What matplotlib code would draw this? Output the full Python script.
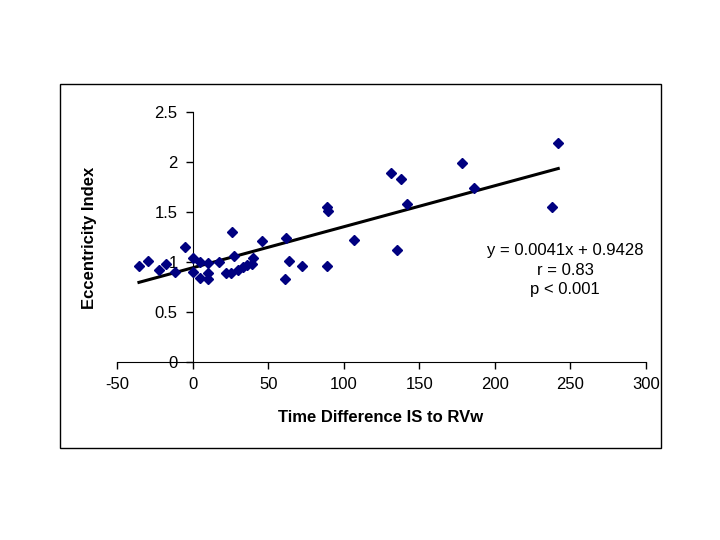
import numpy as np
import matplotlib.pyplot as plt
from matplotlib.patches import Rectangle

plt.rcParams['font.family'] = ['Liberation Sans', 'DejaVu Sans']
plt.rcParams['axes.unicode_minus'] = False

# time difference IS to RVw vs eccentricity index
time_diff = [-35.7, -29.8, -22.5, -17.9, -12.0, -5.0, 0.0, 0.0, 5.0, 5.0,
             10.0, 10.0, 10.0, 17.0, 22.0, 25.0, 26.0, 27.0, 30.0, 33.0,
             36.0, 39.0, 40.0, 46.0, 61.5, 60.8, 63.5, 72.0, 89.0, 88.6,
             89.3, 107.0, 131.0, 135.0, 137.6, 141.5, 178.0, 186.5, 238.0, 242.0]
ecc_index = [0.96, 1.01, 0.92, 0.98, 0.90, 1.15, 1.04, 0.90, 1.00, 0.84,
             0.99, 0.83, 0.89, 1.00, 0.89, 0.89, 1.30, 1.06, 0.92, 0.95,
             0.97, 0.98, 1.04, 1.21, 1.24, 0.83, 1.01, 0.96, 0.96, 1.55,
             1.51, 1.22, 1.89, 1.12, 1.83, 1.58, 1.99, 1.74, 1.55, 2.19]

# regression from the annotation
slope = 0.0041
intercept = 0.9428
stats_text = "y = 0.0041x + 0.9428\nr = 0.83\np < 0.001"

x_ticks = [-50, 0, 50, 100, 150, 200, 250, 300]
y_ticks = [0, 0.5, 1, 1.5, 2, 2.5]
y_tick_labels = ['0', '0.5', '1', '1.5', '2', '2.5']

fig = plt.figure(figsize=(7.2, 5.4), dpi=100)
ax = fig.add_axes([0.163, 0.3296, 0.734, 0.463])

ax.plot(time_diff, ecc_index, linestyle='none', marker='D', markersize=5,
        color='#000080', zorder=3)

xs = np.array([min(time_diff), max(time_diff)])
ax.plot(xs, slope * xs + intercept, color='black', linewidth=2.2, zorder=2)

ax.set_xlim(-50, 300)
ax.set_ylim(0, 2.5)
ax.set_xticks(x_ticks)
ax.set_yticks(y_ticks)
ax.set_yticklabels(y_tick_labels)

ax.spines['left'].set_position(('data', 0))
ax.spines['bottom'].set_position(('data', 0))
ax.spines['top'].set_visible(False)
ax.spines['right'].set_visible(False)
ax.tick_params(direction='out', length=5, width=1, labelsize=12, pad=6)
ax.patch.set_alpha(0)

# stats block, centred on its middle line
ax.text(246.7, 0.92, stats_text, ha='center', va='center', fontsize=12,
        linespacing=1.4)

fig.text(0.529, 0.226, 'Time Difference IS to RVw', ha='center', va='center',
         fontsize=12, fontweight='bold')
fig.text(0.124, 0.56, 'Eccentricity Index', ha='center', va='center',
         rotation=90, fontsize=12, fontweight='bold')

fig.patches.append(Rectangle((0.0833, 0.170), 0.835, 0.674, transform=fig.transFigure,
                             fill=False, edgecolor='black', linewidth=1))

fig.savefig('out.png', dpi=100)
